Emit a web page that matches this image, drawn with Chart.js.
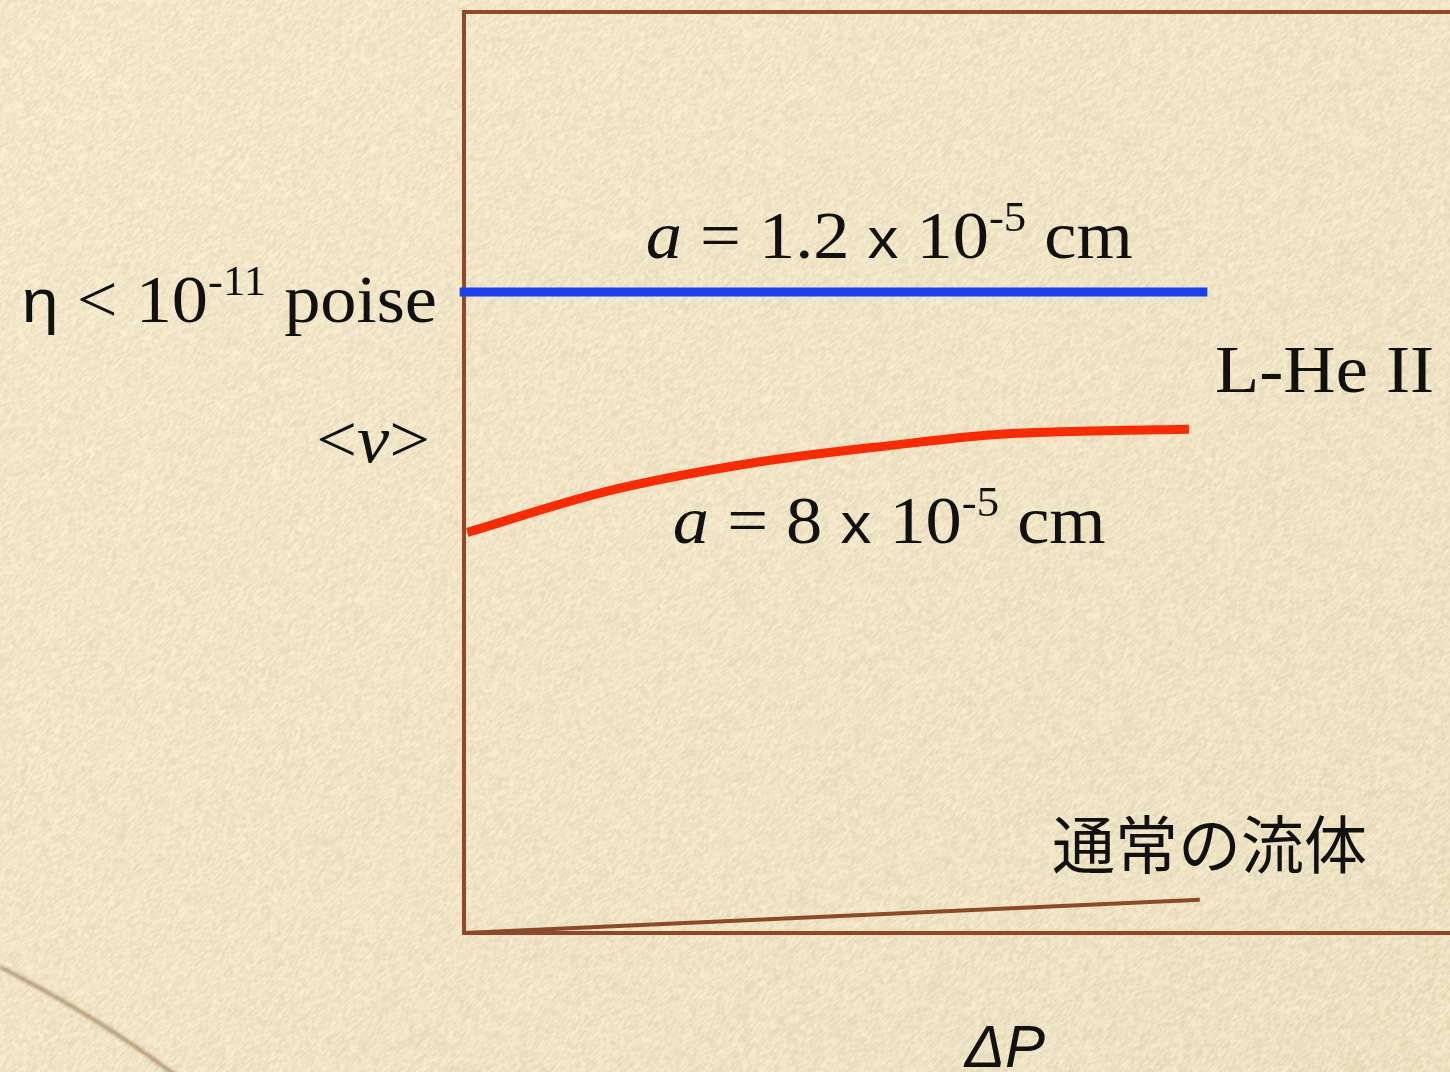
<!DOCTYPE html>
<html>
<head>
<meta charset="utf-8">
<script src="https://cdn.jsdelivr.net/npm/chart.js@4.4.1/dist/chart.umd.min.js"></script>
<style>
  html, body { margin: 0; padding: 0; overflow: hidden; background: #efe3c5; }
  #wrap { position: relative; width: 1560px; height: 1072px; }
</style>
</head>
<body>
<div id="wrap"><canvas id="flowChart"></canvas></div>
<script>
// Flow speed <v> against pressure drop ΔP (arbitrary units 0..100 on both axes)
const thinSlitP = [-0.4, 68.7];
const thinSlitV = [69.6, 69.6];

const wideSlitP = [0.3, 13.0, 26.5, 39.9, 48.9, 57.9, 67.0];
const wideSlitV = [43.5, 47.9, 51.0, 53.0, 54.1, 54.5, 54.7];

const normalFluidP = [0, 68.0];
const normalFluidV = [0, 3.6];

const axisMin = 0;
const axisMax = 100;

const toPoints = (xs, ys) => xs.map((x, i) => ({ x: x, y: ys[i] }));

const FRAME = "#8d4a2b";
const SERIF = '68px "Liberation Serif"';
const SERIF_IT = 'italic 68px "Liberation Serif"';
const SUP = '42px "Liberation Serif"';
const SANS = '62px "Liberation Sans"';
const TIMES_X = '58px "Liberation Sans"';
const WIDE = 1.065; // serif runs are drawn slightly stretched

// cheap deterministic hash for the paper grain
function hash(i, j) {
  let h = (i * 374761393 + j * 668265263) | 0;
  h = Math.imul(h ^ (h >>> 13), 1274126177);
  return ((h ^ (h >>> 16)) >>> 0) / 4294967295;
}

let paperCache = null;
function buildPaper(w, h) {
  const c = document.createElement("canvas");
  c.width = w; c.height = h;
  const g = c.getContext("2d");
  const img = g.createImageData(w, h);
  const d = img.data;
  for (let y = 0; y < h; y++) {
    for (let x = 0; x < w; x++) {
      // grain stretched along the lower-left / upper-right diagonal
      const s = (x - y) / 5, t = (x + y) / 2.2;
      const i0 = Math.floor(s), j0 = Math.floor(t);
      const fs = s - i0, ft = t - j0;
      const a = hash(i0, j0), b = hash(i0 + 1, j0), cc = hash(i0, j0 + 1), dd = hash(i0 + 1, j0 + 1);
      const n = (a * (1 - fs) + b * fs) * (1 - ft) + (cc * (1 - fs) + dd * fs) * ft;
      const k = (n - 0.5) * 22;
      const shade = -4 * (x / w) - 3 * (y / h);
      const p = (y * w + x) * 4;
      d[p] = 242 + k + shade;
      d[p + 1] = 231 + k + shade;
      d[p + 2] = 201 + k * 1.1 + shade * 1.5;
      d[p + 3] = 255;
    }
  }
  g.putImageData(img, 0, 0);

  // faint crease in the lower left corner
  g.save();
  g.filter = "blur(1.5px)";
  g.strokeStyle = "rgba(120, 80, 35, 0.5)";
  g.lineWidth = 4;
  g.beginPath();
  g.moveTo(0, 967);
  g.quadraticCurveTo(95, 1015, 175, 1075);
  g.stroke();
  g.restore();
  return c;
}

const paperPlugin = {
  id: "paper",
  beforeDraw(chart) {
    const { ctx, width, height } = chart;
    if (!paperCache || paperCache.width !== width || paperCache.height !== height) {
      paperCache = buildPaper(width, height);
    }
    ctx.drawImage(paperCache, 0, 0);
  }
};

// text built from runs so exponents and italics can be mixed
function drawRuns(ctx, runs, x, y, align, stretch) {
  const sx = stretch || 1;
  let total = 0;
  runs.forEach(r => {
    ctx.font = r.font;
    r.w = ctx.measureText(r.text).width * sx;
    total += r.w;
  });
  let cx = align === "right" ? x - total : align === "center" ? x - total / 2 : x;
  runs.forEach(r => {
    ctx.save();
    ctx.font = r.font;
    ctx.translate(cx, y - (r.rise || 0));
    ctx.scale(sx, 1);
    ctx.fillText(r.text, 0, 0);
    ctx.restore();
    cx += r.w;
  });
}

const labelPlugin = {
  id: "labels",
  afterDraw(chart) {
    const { ctx, chartArea } = chart;
    const xs = chart.scales.x;
    const ys = chart.scales.y;
    const thinY = ys.getPixelForValue(thinSlitV[0]);
    const wideEndY = ys.getPixelForValue(wideSlitV[wideSlitV.length - 1]);
    const midX = xs.getPixelForValue(39.3);

    ctx.save();
    ctx.fillStyle = "#111";
    ctx.textBaseline = "alphabetic";
    ctx.textAlign = "left";

    drawRuns(ctx, [
      { text: "η", font: SANS },
      { text: " < 10", font: SERIF },
      { text: "-11", font: SUP, rise: 27 },
      { text: " poise", font: SERIF }
    ], chartArea.left - 27, thinY + 30, "right", WIDE);

    drawRuns(ctx, [
      { text: "a", font: SERIF_IT },
      { text: " = 1.2 ", font: SERIF },
      { text: "x", font: TIMES_X },
      { text: " 10", font: SERIF },
      { text: "-5", font: SUP, rise: 27 },
      { text: " cm", font: SERIF }
    ], midX, thinY - 34, "center", WIDE);

    drawRuns(ctx, [
      { text: "a", font: SERIF_IT },
      { text: " = 8 ", font: SERIF },
      { text: "x", font: TIMES_X },
      { text: " 10", font: SERIF },
      { text: "-5", font: SUP, rise: 27 },
      { text: " cm", font: SERIF }
    ], midX, wideEndY + 114, "center", WIDE);

    drawRuns(ctx, [{ text: "L-He II", font: SERIF }], 1215, 392, "left", WIDE);

    drawRuns(ctx, [
      { text: "<", font: SERIF },
      { text: "v", font: SERIF_IT },
      { text: ">", font: SERIF }
    ], chartArea.left - 34, 462, "right", WIDE);

    ctx.font = '63px "Noto Sans CJK JP"';
    ctx.fillText("通常の流体", 1052, 868);

    drawRuns(ctx, [{ text: "ΔP", font: 'italic 60px "Liberation Sans"' }], 1005, 1067, "center");
    ctx.restore();
  }
};

const frameAxis = {
  display: true,
  ticks: { display: false },
  grid: { display: false, drawTicks: false },
  border: { display: true, color: FRAME, width: 4 }
};

new Chart(document.getElementById("flowChart"), {
  type: "line",
  data: {
    datasets: [
      {
        label: "a = 1.2 x 10^-5 cm",
        data: toPoints(thinSlitP, thinSlitV),
        borderColor: "#1840f0",
        borderWidth: 9,
        borderCapStyle: "butt",
        pointRadius: 0,
        clip: false
      },
      {
        label: "a = 8 x 10^-5 cm",
        data: toPoints(wideSlitP, wideSlitV),
        borderColor: "#ff2a00",
        borderWidth: 9,
        cubicInterpolationMode: "monotone",
        pointRadius: 0,
        clip: false
      },
      {
        label: "通常の流体",
        data: toPoints(normalFluidP, normalFluidV),
        borderColor: FRAME,
        borderWidth: 4,
        pointRadius: 0,
        clip: false
      }
    ]
  },
  options: {
    responsive: true,
    maintainAspectRatio: false,
    animation: false,
    events: [],
    layout: { padding: { left: 464, top: 12, right: 14, bottom: 139 } },
    plugins: { legend: { display: false }, tooltip: { enabled: false } },
    scales: {
      x: Object.assign({ type: "linear", position: "bottom", min: axisMin, max: axisMax }, frameAxis),
      xTop: Object.assign({ type: "linear", position: "top", axis: "x", min: axisMin, max: axisMax }, frameAxis),
      y: Object.assign({ type: "linear", position: "left", min: axisMin, max: axisMax }, frameAxis),
      yRight: Object.assign({ type: "linear", position: "right", axis: "y", min: axisMin, max: axisMax }, frameAxis)
    }
  },
  plugins: [paperPlugin, labelPlugin]
});
</script>
</body>
</html>
